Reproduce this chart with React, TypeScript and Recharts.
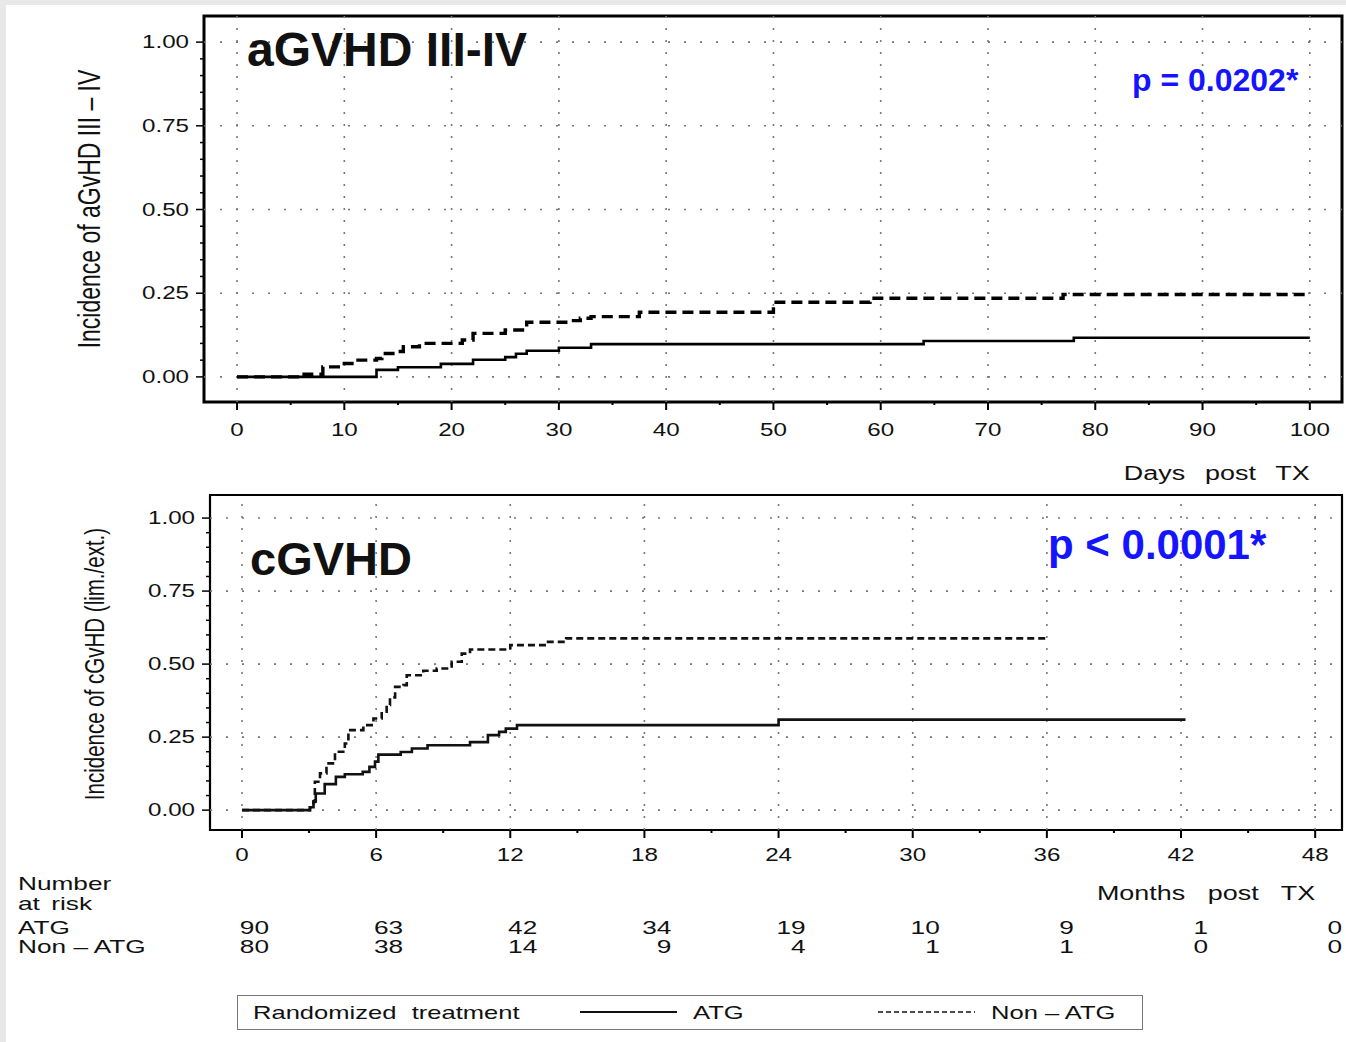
import React from 'react';
import { LineChart, Line, XAxis, YAxis, ReferenceLine, ReferenceArea } from 'recharts';

const FONT = '"Liberation Sans", Arial, Helvetica, sans-serif';
const STRETCH = 1.38;

// aGVHD III-IV (days post TX)
const atgDays = [0, 13, 15, 19, 22, 25, 26, 27, 30, 33, 64, 78, 100];
const atgAcute = [0, 0.021, 0.029, 0.039, 0.051, 0.059, 0.069, 0.078, 0.087, 0.098, 0.107, 0.117, 0.117];
const nonAtgDays = [0, 6, 8, 10, 11, 13, 13.5, 15, 15.5, 17, 21, 22, 25, 27, 31, 32, 33, 37.5, 50, 59, 77, 100];
const nonAtgAcute = [0, 0.008, 0.03, 0.04, 0.05, 0.055, 0.07, 0.076, 0.09, 0.1, 0.11, 0.13, 0.14, 0.163, 0.168, 0.175, 0.18, 0.193, 0.223, 0.235, 0.246, 0.246];

// cGVHD (months post TX)
const atgMonths = [0, 3.04, 3.2, 3.3, 3.7, 4.2, 4.6, 5.4, 5.7, 5.95, 6.1, 7.1, 7.6, 8.3, 10.2, 11.0, 11.5, 11.8, 12.3, 24, 42.2];
const atgChronic = [0, 0.01, 0.03, 0.057, 0.089, 0.114, 0.123, 0.131, 0.148, 0.166, 0.19, 0.199, 0.211, 0.222, 0.233, 0.257, 0.268, 0.279, 0.291, 0.31, 0.31];
const nonAtgMonths = [0, 3.04, 3.19, 3.26, 3.49, 3.78, 4.16, 4.6, 4.76, 5.43, 5.88, 6.25, 6.47, 6.62, 6.85, 7.22, 7.37, 8.11, 8.71, 9.38, 9.83, 10.2, 12.0, 13.6, 14.5, 36];
const nonAtgChronic = [0, 0.01, 0.028, 0.097, 0.126, 0.16, 0.2, 0.228, 0.274, 0.291, 0.314, 0.337, 0.36, 0.386, 0.422, 0.428, 0.462, 0.477, 0.485, 0.508, 0.536, 0.55, 0.565, 0.576, 0.588, 0.588];

// ticks
const dayMajor = [0, 10, 20, 30, 40, 50, 60, 70, 80, 90, 100];
const dayMinor = [5, 15, 25, 35, 45, 55, 65, 75, 85, 95];
const monthMajor = [0, 6, 12, 18, 24, 30, 36, 42, 48];
const monthMinor = [3, 9, 15, 21, 27, 33, 39, 45];
const incMajor = [0, 0.25, 0.5, 0.75, 1];
const incMinor = [0.05, 0.1, 0.15, 0.2, 0.3, 0.35, 0.4, 0.45, 0.55, 0.6, 0.65, 0.7, 0.8, 0.85, 0.9, 0.95];

// number at risk
const atgRisk = [90, 63, 42, 34, 19, 10, 9, 1, 0];
const nonAtgRisk = [80, 38, 14, 9, 4, 1, 1, 0, 0];

const toRows = (xs: number[], ys: number[]) => xs.map((x, i) => ({ x, y: ys[i] }));

const atgA = toRows(atgDays, atgAcute);
const nonA = toRows(nonAtgDays, nonAtgAcute);
const atgC = toRows(atgMonths, atgChronic);
const nonC = toRows(nonAtgMonths, nonAtgChronic);

const dayDomain: [number, number] = [-3.08, 103];
const monthDomain: [number, number] = [-1.43, 49.2];
const incDomainTop: [number, number] = [-0.075, 1.078];
const incDomainBottom: [number, number] = [-0.068, 1.079];

const SasText = ({ x, y, anchor = 'middle', size = 17.5, children }: any) => (
  <g transform={`translate(${x},${y}) scale(${STRETCH},1)`}>
    <text textAnchor={anchor} fontSize={size} fontFamily={FONT} fill="#111">
      {children}
    </text>
  </g>
);

const YTick = (props: any) => {
  const { x, y, payload } = props;
  const major = incMajor.includes(payload.value);
  return (
    <g>
      <line x1={x - (major ? 8 : 4)} x2={x} y1={y} y2={y} stroke="#000" strokeWidth={1.5} />
      {major && (
        <SasText x={x - 15} y={y + 6} anchor="end">
          {payload.value.toFixed(2)}
        </SasText>
      )}
    </g>
  );
};

const makeXTick = (majors: number[], labelDy: number, withRisk: boolean) => (props: any) => {
  const { x, y, payload } = props;
  const i = majors.indexOf(payload.value);
  const major = i >= 0;
  return (
    <g>
      <line x1={x} x2={x} y1={y} y2={y + (major ? 8 : 3)} stroke="#000" strokeWidth={2} />
      {major && (
        <SasText x={x} y={y + labelDy}>
          {payload.value}
        </SasText>
      )}
      {major && withRisk && (
        <SasText x={x + 27} y={y + 104} anchor="end" size={19}>
          {atgRisk[i]}
        </SasText>
      )}
      {major && withRisk && (
        <SasText x={x + 27} y={y + 123} anchor="end" size={19}>
          {nonAtgRisk[i]}
        </SasText>
      )}
    </g>
  );
};

const TopXTick = makeXTick(dayMajor, 34, false);
const BottomXTick = makeXTick(monthMajor, 31, true);

const HText = ({ left, right, baseline, size, bold, color = '#111', stretch, word = 0, children }: any) => {
  const style: React.CSSProperties = {
    position: 'absolute',
    top: baseline - 0.847 * size,
    fontSize: size,
    lineHeight: 1,
    fontFamily: FONT,
    fontWeight: bold ? 700 : 400,
    color,
    whiteSpace: 'pre',
    wordSpacing: word,
  };
  if (right !== undefined) {
    style.right = 1346 - right;
    style.transformOrigin = 'right top';
  } else {
    style.left = left;
    style.transformOrigin = 'left top';
  }
  if (stretch) style.transform = `scaleX(${STRETCH})`;
  return <div style={style}>{children}</div>;
};

const YLabel = ({ cx, cy, size, children }: any) => (
  <div style={{ position: 'absolute', left: cx, top: cy, width: 0, height: 0 }}>
    <div
      style={{
        position: 'absolute',
        left: 0,
        top: 0,
        fontSize: size,
        lineHeight: 1,
        fontFamily: FONT,
        color: '#111',
        whiteSpace: 'pre',
        transform: `scaleX(${STRETCH}) rotate(-90deg) translate(-50%,-50%)`,
        transformOrigin: '0 0',
      }}
    >
      {children}
    </div>
  </div>
);

const gridH = { stroke: '#777', strokeWidth: 1.6, strokeDasharray: '2 14' };
const gridV = { stroke: '#777', strokeWidth: 1.6, strokeDasharray: '2 10' };

export default function App() {
  return (
    <div style={{ position: 'absolute', left: 0, top: 0, width: 1346, height: 1042, background: '#e8e8e8', overflow: 'hidden' }}>
      <div style={{ position: 'absolute', left: 6, top: 5, right: 0, bottom: 0, background: '#fff' }} />

      {/* aGVHD chart */}
      <div style={{ position: 'absolute', left: 0, top: 0 }}>
        <LineChart width={1346} height={470} margin={{ top: 16, right: 4, bottom: 8, left: 0 }}>
          <XAxis
            type="number"
            dataKey="x"
            domain={dayDomain}
            allowDataOverflow
            ticks={[...dayMajor, ...dayMinor].sort((a, b) => a - b)}
            interval={0}
            tickSize={0}
            tickMargin={0}
            axisLine={false}
            tickLine={false}
            height={60}
            tick={TopXTick}
          />
          <YAxis
            type="number"
            domain={incDomainTop}
            allowDataOverflow
            ticks={[...incMajor, ...incMinor].sort((a, b) => a - b)}
            interval={0}
            tickSize={0}
            tickMargin={0}
            axisLine={false}
            tickLine={false}
            width={204}
            tick={YTick}
          />
          {incMajor.map((v) => (
            <ReferenceLine key={`h${v}`} y={v} {...gridH} />
          ))}
          {dayMajor.map((v) => (
            <ReferenceLine key={`v${v}`} x={v} {...gridV} />
          ))}
          <Line data={atgA} dataKey="y" type="stepAfter" stroke="#000" strokeWidth={2.6} dot={false} isAnimationActive={false} />
          <Line data={nonA} dataKey="y" type="stepAfter" stroke="#000" strokeWidth={3.4} strokeDasharray="11 6" dot={false} isAnimationActive={false} />
          <ReferenceArea x1={dayDomain[0]} x2={dayDomain[1]} y1={incDomainTop[0]} y2={incDomainTop[1]} fill="none" stroke="#000" strokeWidth={3} />
        </LineChart>
      </div>

      {/* cGVHD chart */}
      <div style={{ position: 'absolute', left: 0, top: 480 }}>
        <LineChart width={1346} height={520} margin={{ top: 15, right: 4, bottom: 110, left: 0 }}>
          <XAxis
            type="number"
            dataKey="x"
            domain={monthDomain}
            allowDataOverflow
            ticks={[...monthMajor, ...monthMinor].sort((a, b) => a - b)}
            interval={0}
            tickSize={0}
            tickMargin={0}
            axisLine={false}
            tickLine={false}
            height={60}
            tick={BottomXTick}
          />
          <YAxis
            type="number"
            domain={incDomainBottom}
            allowDataOverflow
            ticks={[...incMajor, ...incMinor].sort((a, b) => a - b)}
            interval={0}
            tickSize={0}
            tickMargin={0}
            axisLine={false}
            tickLine={false}
            width={210}
            tick={YTick}
          />
          {incMajor.map((v) => (
            <ReferenceLine key={`h${v}`} y={v} {...gridH} />
          ))}
          {monthMajor.map((v) => (
            <ReferenceLine key={`v${v}`} x={v} {...gridV} />
          ))}
          <Line data={atgC} dataKey="y" type="stepAfter" stroke="#111" strokeWidth={2.6} dot={false} isAnimationActive={false} />
          <Line data={nonC} dataKey="y" type="stepAfter" stroke="#111" strokeWidth={2.6} strokeDasharray="7 4" dot={false} isAnimationActive={false} />
          <ReferenceArea x1={monthDomain[0]} x2={monthDomain[1]} y1={incDomainBottom[0]} y2={incDomainBottom[1]} fill="none" stroke="#000" strokeWidth={2.2} />
        </LineChart>
      </div>

      {/* titles and labels */}
      <HText left={247} baseline={67} size={48} bold>aGVHD III-IV</HText>
      <HText left={1132} baseline={91} size={32} bold color="#1414ff">p = 0.0202*</HText>
      <HText left={250} baseline={575} size={47} bold>cGVHD</HText>
      <HText left={1048} baseline={560} size={42} bold color="#1414ff">p &lt; 0.0001*</HText>

      <YLabel cx={90} cy={209} size={23}>Incidence of aGvHD III – IV</YLabel>
      <YLabel cx={95} cy={664} size={20.5}>Incidence of cGvHD (lim./ext.)</YLabel>

      <HText right={1310} baseline={481} size={19.5} stretch word={9}>Days post TX</HText>
      <HText right={1315} baseline={901} size={19.5} stretch word={11}>Months post TX</HText>

      <HText left={18} baseline={890} size={19} stretch>Number</HText>
      <HText left={18} baseline={910} size={19} stretch word={3}>at risk</HText>
      <HText left={18} baseline={934} size={19} stretch>ATG</HText>
      <HText left={18} baseline={953} size={19} stretch>Non – ATG</HText>

      {/* legend */}
      <div style={{ position: 'absolute', left: 237, top: 995, width: 906, height: 35, border: '1.5px solid #777', boxSizing: 'border-box' }} />
      <HText left={253} baseline={1020} size={18.5} stretch word={6}>Randomized treatment</HText>
      <svg style={{ position: 'absolute', left: 0, top: 0 }} width={1346} height={1042} pointerEvents="none">
        <line x1={580} x2={677} y1={1012} y2={1012} stroke="#111" strokeWidth={2} />
        <line x1={878} x2={975} y1={1012} y2={1012} stroke="#111" strokeWidth={1.6} strokeDasharray="5 3" />
      </svg>
      <HText left={693} baseline={1020} size={18.5} stretch>ATG</HText>
      <HText left={991} baseline={1020} size={18.5} stretch>Non – ATG</HText>
    </div>
  );
}
